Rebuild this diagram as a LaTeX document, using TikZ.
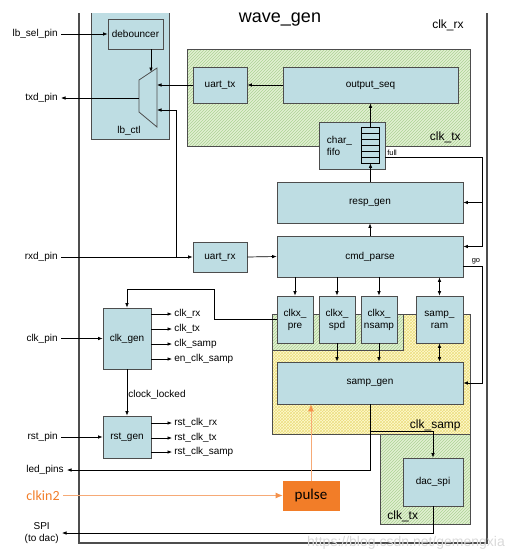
\documentclass[tikz,border=0pt]{standalone}
\usepackage{fontspec}
\setmainfont{Liberation Sans}
\newfontfamily\cnfont{Carlito}
\usepackage{tikz}
\usetikzlibrary{arrows.meta}
\usetikzlibrary{patterns}

\definecolor{boxblue}{RGB}{190,221,227}
\definecolor{linegray}{RGB}{77,77,77}
\definecolor{txgreen}{RGB}{226,240,210}
\definecolor{hatchgreen}{RGB}{172,210,148}
\definecolor{sampyellow}{RGB}{255,250,208}
\definecolor{hatchyellow}{RGB}{236,222,128}
\definecolor{pulseorange}{RGB}{242,125,40}
\definecolor{wireorange}{RGB}{246,170,118}
\definecolor{tiporange}{RGB}{244,145,75}

\tikzset{
  blk/.style={draw=linegray, fill=boxblue, line width=0.8pt, inner sep=2pt, align=center},
  pinlabel/.style={anchor=east, inner sep=3pt},
  siglabel/.style={anchor=west, inner sep=2pt},
  clklabel/.style={font=\fontsize{12}{14}\selectfont, inner sep=0pt},
  txregion/.style={draw=linegray, line width=0.6pt, preaction={fill=txgreen}, pattern=north east lines, pattern color=hatchgreen},
  sampregion/.style={draw=linegray, line width=0.6pt, preaction={fill=sampyellow}, pattern=crosshatch, pattern color=hatchyellow},
  orangewire/.style={wireorange, line width=0.8pt, -{Latex[length=7pt,width=6pt,color=tiporange]}},
}

\begin{document}
\begin{tikzpicture}[x=1pt, y=-1pt, >={Latex[length=4.5pt,width=3.6pt]}, line width=0.7pt, font=\fontsize{10}{12}\selectfont]
  \useasboundingbox (0,0) rectangle (528,560);

  % clock regions
  \draw[txregion] (187,49) rectangle (470,146);
  \draw[sampregion] (272,314) rectangle (470,434);
  \draw[txregion] (272,314) rectangle (403,350);
  \draw[txregion] (380,434) rectangle (470,524);

  % wave_gen outline and lb_ctl
  \draw[linegray, line width=1.2pt] (79,13) |- (487,543) -- (487,13);
  \fill[boxblue] (91,13) rectangle (169,139);
  \draw[linegray, line width=0.8pt] (91,13) |- (169,139) -- (169,13);

  \node[anchor=base] (title) at (280,22) {\fontsize{18}{20}\selectfont wave\_gen};
  \node[clklabel, anchor=base east] (rxclk) at (464,28) {clk\_rx};
  \node[clklabel, anchor=base east] (txclk) at (461,140) {clk\_tx};
  \node[clklabel, anchor=base east] (sampclk) at (461,428) {clk\_samp};
  \node[clklabel, anchor=base west] (txclkb) at (387,519) {clk\_tx};
  \node[anchor=base, inner sep=0pt] (lbctl) at (129,133) {lb\_ctl};

  % blocks
  \node[blk, minimum width=55, minimum height=30] (debouncer) at (135.5,34) {debouncer};
  \draw[blk] (139,80) -- (157,68) -- (157,127) -- (139,112) -- cycle;
  \coordinate (muxsel) at (151,72);
  \coordinate (muxin1) at (157,85);
  \coordinate (muxin2) at (157,110);
  \coordinate (muxout) at (139,98);

  \node[blk, minimum width=54, minimum height=36] (uarttx) at (220,85) {uart\_tx};
  \node[blk, minimum width=175, minimum height=36] (outputseq) at (370.5,85) {output\_seq};
  \node[blk, minimum width=66, minimum height=47] (charfifo) at (352,145.5) {};
  \node[anchor=west, align=left, inner sep=3pt] (fifotext) at ([xshift=5pt]charfifo.west) {char\_\\fifo};
  \node[draw=black, fill=boxblue, line width=0.7pt, minimum width=18, minimum height=36, inner sep=0pt] (fifoq) at (370.5,145) {};
  \foreach \y in {133,139,145,151,157}
    \draw[line width=0.7pt] (361.5,\y) -- (379.5,\y);

  \node[blk, minimum width=186, minimum height=41] (respgen) at (370,202.5) {resp\_gen};
  \node[blk, minimum width=186, minimum height=41] (cmdparse) at (370,256.5) {cmd\_parse};
  \node[blk, minimum width=54, minimum height=30] (uartrx) at (220,257) {uart\_rx};

  \node[blk, minimum width=36, minimum height=47] (clkxpre) at (295,319.5) {clkx\_\\pre};
  \node[blk, minimum width=36, minimum height=47] (clkxspd) at (337,319.5) {clkx\_\\spd};
  \node[blk, minimum width=36, minimum height=47] (clkxnsamp) at (379,319.5) {clkx\_\\nsamp};
  \node[blk, minimum width=47, minimum height=47] (sampram) at (439.5,319.5) {samp\_\\ram};
  \node[blk, minimum width=186, minimum height=42] (sampgen) at (370,383) {samp\_gen};
  \node[blk, minimum width=60, minimum height=48] (dacspi) at (433,482) {dac\_spi};

  \node[blk, minimum width=48, minimum height=61] (clkgen) at (127,338.5) {clk\_gen};
  \node[blk, minimum width=48, minimum height=42] (rstgen) at (127,437) {rst\_gen};

  \node[draw=pulseorange, fill=pulseorange, minimum width=56, minimum height=29, inner sep=0pt, font=\cnfont\fontsize{15}{17}\selectfont] (pulse) at (311,495.5) {pulse};

  % pins
  \node[pinlabel] (lbselpin) at (61,34) {lb\_sel\_pin};
  \node[pinlabel] (txdpin) at (61,98) {txd\_pin};
  \node[pinlabel] (rxdpin) at (61,257) {rxd\_pin};
  \node[pinlabel] (clkpin) at (61,338.5) {clk\_pin};
  \node[pinlabel] (rstpin) at (61,437) {rst\_pin};
  \node[pinlabel] (ledpins) at (67,470) {led\_pins};
  \node[pinlabel, text=pulseorange, font=\cnfont\fontsize{14}{16}\selectfont] (clkin2) at (63,495.5) {clkin2};
  \node[pinlabel, align=center] (spipin) at (62,533) {SPI\\(to dac)};

  % clk_gen and rst_gen outputs
  \node[siglabel] (clkrx) at (172,314) {clk\_rx};
  \node[siglabel] (clktx) at (172,329) {clk\_tx};
  \node[siglabel] (clksamp) at (172,344) {clk\_samp};
  \node[siglabel] (enclksamp) at (172,359) {en\_clk\_samp};
  \node[siglabel] (rstclkrx) at (172,423) {rst\_clk\_rx};
  \node[siglabel] (rstclktx) at (172,438) {rst\_clk\_tx};
  \node[siglabel] (rstclksamp) at (172,452) {rst\_clk\_samp};

  % connectors
  \draw [->] (lbselpin.east) -- (debouncer.west);
  \draw [->] (debouncer.south -| muxsel) -- (muxsel);
  \draw [->] (uarttx.west) -- (muxin1);
  \draw [->] (muxout) -- (txdpin.east);
  \draw [->] (outputseq.west) -- (uarttx.east);
  \draw [->] (fifoq.north) -- (outputseq.south -| fifoq.north);
  \draw [->] (respgen.north -| fifoq.south) -- (fifoq.south);
  \draw [->] (cmdparse.north) -- (respgen.south);
  \draw [->] ([yshift=12pt]charfifo.south east) node[above right, inner sep=1.5pt, font=\fontsize{7.5}{9}\selectfont] {full}
    -| (482,246.5) -- ([yshift=10pt]cmdparse.east);
  \draw [->] (482,202.5) -- (respgen.east);
  \draw [->] ([yshift=-9.5pt]cmdparse.east) -- (482,266) node[above left, inner sep=1.5pt, font=\fontsize{7.5}{9}\selectfont] {go}
    |- (sampgen.east);

  \coordinate (rxdtap) at (176,257);
  \draw [->] (rxdpin.east) -- (uartrx.west);
  \draw [->] (rxdtap) |- (muxin2);
  \draw [->] (uartrx.east) -- (cmdparse.west);

  \draw [->] (cmdparse.south -| clkxpre) -- (clkxpre.north);
  \draw [->] (cmdparse.south -| clkxspd) -- (clkxspd.north);
  \draw [->] (cmdparse.south -| clkxnsamp) -- (clkxnsamp.north);
  \draw [<->] (cmdparse.south -| sampram) -- (sampram.north);
  \draw [->] (clkxspd.south) -- (sampgen.north -| clkxspd);
  \draw [->] (clkxnsamp.south) -- (sampgen.north -| clkxnsamp);
  \draw [<->] (sampram.south) -- (sampgen.north -| sampram);

  \draw [->] (clkxpre.west) -| (214,289) -| (clkgen.north);
  \draw [->] (clkpin.east) -- (clkgen.west);
  \draw [->] (clkgen.east |- clkrx) -- (clkrx.west);
  \draw [->] (clkgen.east |- clktx) -- (clktx.west);
  \draw [->] (clkgen.east |- clksamp) -- (clksamp.west);
  \draw [->] (clkgen.east |- enclksamp) -- (enclksamp.west);
  \draw [->] (clkgen.south) -- node[right, inner sep=1pt, pos=0.55] {clock\_locked} (rstgen.north);
  \draw [->] (rstpin.east) -- (rstgen.west);
  \draw [->] (rstgen.east |- rstclkrx) -- (rstclkrx.west);
  \draw [->] (rstgen.east |- rstclktx) -- (rstclktx.west);
  \draw [->] (rstgen.east |- rstclksamp) -- (rstclksamp.west);

  \coordinate (dactap) at (370,431);
  \draw [->] (sampgen.south) |- (ledpins.east);
  \draw [->] (dactap) -| (dacspi.north);
  \draw [->] (dacspi.south) |- (spipin.east);

  \draw [orangewire] (clkin2.east) -- (pulse.west);
  \draw [orangewire] (pulse.north) -- (sampgen.south -| pulse.north);

  \node[text=black!15, font=\fontsize{14}{16}\selectfont] (mark) at (406,543) {https://blog.csdn.net/gemengxia};
\end{tikzpicture}
\end{document}
